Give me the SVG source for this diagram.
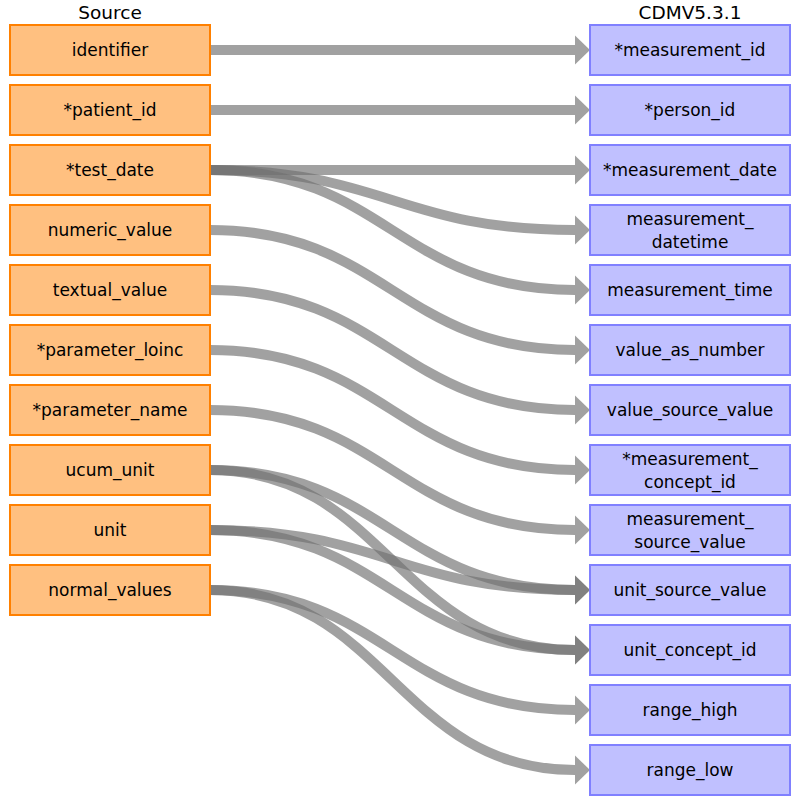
<svg xmlns="http://www.w3.org/2000/svg" width="800" height="805" viewBox="0 0 800 805">
<style>
.src rect{fill:#ffc080;stroke:#ff8000;stroke-width:2}
.dst rect{fill:#c0c0ff;stroke:#8080ff;stroke-width:2}
text{font-family:"DejaVu Sans","Liberation Sans",sans-serif;font-size:17px;fill:#000;text-anchor:middle;dominant-baseline:central}
.title{font-size:18.5px}
#connectors path{fill:none;stroke:#707070;stroke-opacity:0.66;stroke-width:10;marker-end:url(#ah)}
</style>
<defs>
<marker id="ah" markerUnits="userSpaceOnUse" markerWidth="16" markerHeight="30" refX="0" refY="14.5" orient="auto" overflow="visible">
<path d="M0,0 L15,14.5 L0,29 Z" fill="#707070" fill-opacity="0.66"/>
</marker>
</defs>
<rect width="800" height="805" fill="#fff"/>
<text class="title" x="110" y="12">Source</text>
<text class="title" x="690" y="12">CDMV5.3.1</text>
<g id="connectors">
<path d="M210,50 L575,50"/>
<path d="M210,110 L575,110"/>
<path d="M210,170 L575,170"/>
<path d="M210,170 C385,170 399,230 575,230"/>
<path d="M210,170 C385,170 399,290 575,290"/>
<path d="M210,230 C385,230 399,350 575,350"/>
<path d="M210,290 C385,290 399,410 575,410"/>
<path d="M210,350 C385,350 399,470 575,470"/>
<path d="M210,410 C385,410 399,530 575,530"/>
<path d="M210,470 C385,470 399,590 575,590"/>
<path d="M210,470 C385,470 399,650 575,650"/>
<path d="M210,530 C385,530 399,590 575,590"/>
<path d="M210,530 C385,530 399,650 575,650"/>
<path d="M210,590 C385,590 399,710 575,710"/>
<path d="M210,590 C385,590 399,770 575,770"/>
</g>
<g id="s_identifier" class="src"><rect x="10" y="25" width="200" height="50"/><text x="110" y="50">identifier</text></g>
<g id="s_patient_id" class="src"><rect x="10" y="85" width="200" height="50"/><text x="110" y="110">*patient_id</text></g>
<g id="s_test_date" class="src"><rect x="10" y="145" width="200" height="50"/><text x="110" y="170">*test_date</text></g>
<g id="s_numeric_value" class="src"><rect x="10" y="205" width="200" height="50"/><text x="110" y="230">numeric_value</text></g>
<g id="s_textual_value" class="src"><rect x="10" y="265" width="200" height="50"/><text x="110" y="290">textual_value</text></g>
<g id="s_parameter_loinc" class="src"><rect x="10" y="325" width="200" height="50"/><text x="110" y="350">*parameter_loinc</text></g>
<g id="s_parameter_name" class="src"><rect x="10" y="385" width="200" height="50"/><text x="110" y="410">*parameter_name</text></g>
<g id="s_ucum_unit" class="src"><rect x="10" y="445" width="200" height="50"/><text x="110" y="470">ucum_unit</text></g>
<g id="s_unit" class="src"><rect x="10" y="505" width="200" height="50"/><text x="110" y="530">unit</text></g>
<g id="s_normal_values" class="src"><rect x="10" y="565" width="200" height="50"/><text x="110" y="590">normal_values</text></g>
<g id="d_measurement_id" class="dst"><rect x="590" y="25" width="200" height="50"/><text x="690" y="50">*measurement_id</text></g>
<g id="d_person_id" class="dst"><rect x="590" y="85" width="200" height="50"/><text x="690" y="110">*person_id</text></g>
<g id="d_measurement_date" class="dst"><rect x="590" y="145" width="200" height="50"/><text x="690" y="170">*measurement_date</text></g>
<g id="d_measurement_datetime" class="dst"><rect x="590" y="205" width="200" height="50"/><text x="690" y="219">measurement_</text><text x="690" y="242">datetime</text></g>
<g id="d_measurement_time" class="dst"><rect x="590" y="265" width="200" height="50"/><text x="690" y="290">measurement_time</text></g>
<g id="d_value_as_number" class="dst"><rect x="590" y="325" width="200" height="50"/><text x="690" y="350">value_as_number</text></g>
<g id="d_value_source_value" class="dst"><rect x="590" y="385" width="200" height="50"/><text x="690" y="410">value_source_value</text></g>
<g id="d_measurement_concept_id" class="dst"><rect x="590" y="445" width="200" height="50"/><text x="690" y="459">*measurement_</text><text x="690" y="482">concept_id</text></g>
<g id="d_measurement_source_value" class="dst"><rect x="590" y="505" width="200" height="50"/><text x="690" y="519">measurement_</text><text x="690" y="542">source_value</text></g>
<g id="d_unit_source_value" class="dst"><rect x="590" y="565" width="200" height="50"/><text x="690" y="590">unit_source_value</text></g>
<g id="d_unit_concept_id" class="dst"><rect x="590" y="625" width="200" height="50"/><text x="690" y="650">unit_concept_id</text></g>
<g id="d_range_high" class="dst"><rect x="590" y="685" width="200" height="50"/><text x="690" y="710">range_high</text></g>
<g id="d_range_low" class="dst"><rect x="590" y="745" width="200" height="50"/><text x="690" y="770">range_low</text></g>
</svg>
